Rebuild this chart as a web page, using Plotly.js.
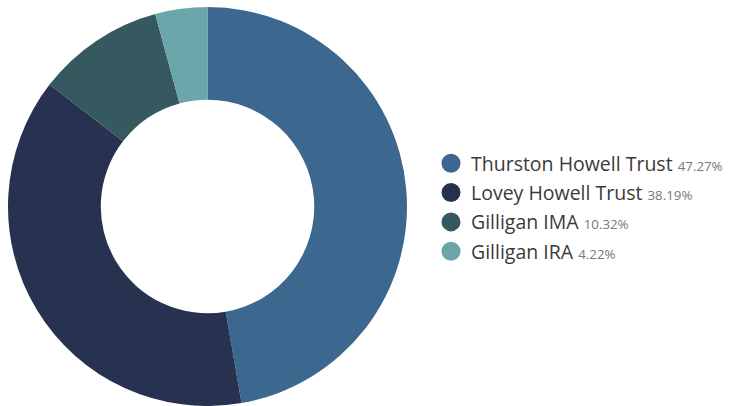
<!DOCTYPE html>
<html>
<head>
<meta charset="utf-8">
<script src="https://cdn.plot.ly/plotly-3.0.1.min.js"></script>
<style>html,body{margin:0;padding:0;background:#fff;}#chart{width:731px;height:406px;}</style>
</head>
<body>
<div id="chart"></div>
<script>
var labels = ["Thurston Howell Trust", "Lovey Howell Trust", "Gilligan IMA", "Gilligan IRA"];
var values = [47.27, 38.19, 10.32, 4.22];
var colors = ["#3c678e", "#26324f", "#36595f", "#6ba6aa"];

var traces = [{
  type: "pie",
  labels: labels,
  values: values,
  hole: 0.535,
  sort: false,
  direction: "clockwise",
  rotation: 0,
  textinfo: "none",
  showlegend: false,
  marker: {colors: colors, line: {width: 0}},
  domain: {x: [8/731, 407/731], y: [0, 399/406]}
}];
labels.forEach(function(l, i) {
  traces.push({
    type: "scatter",
    mode: "markers",
    x: [null], y: [null],
    name: l + ' <span style="font-size:13.3px;color:#777">' + values[i].toFixed(2) + '%</span>',
    marker: {color: colors[i], size: 16, symbol: "circle", line: {color: colors[i], width: 3}},
    legendgroup: "g" + i,
    hoverinfo: "skip"
  });
});

var layout = {
  width: 731, height: 406,
  margin: {l: 0, r: 0, t: 0, b: 0},
  paper_bgcolor: "#fff", plot_bgcolor: "#fff",
  font: {family: "Open Sans", color: "#3a3a3a", size: 19.5},
  xaxis: {visible: false}, yaxis: {visible: false},
  showlegend: true,
  legend: {x: 431/731, xanchor: "left", y: 1 - 144/406, yanchor: "top", tracegroupgap: 1,
           font: {family: "Open Sans", size: 19.5, color: "#3a3a3a"}, bgcolor: "rgba(0,0,0,0)"}
};
Plotly.newPlot("chart", traces, layout, {displayModeBar: false});
</script>
</body>
</html>
